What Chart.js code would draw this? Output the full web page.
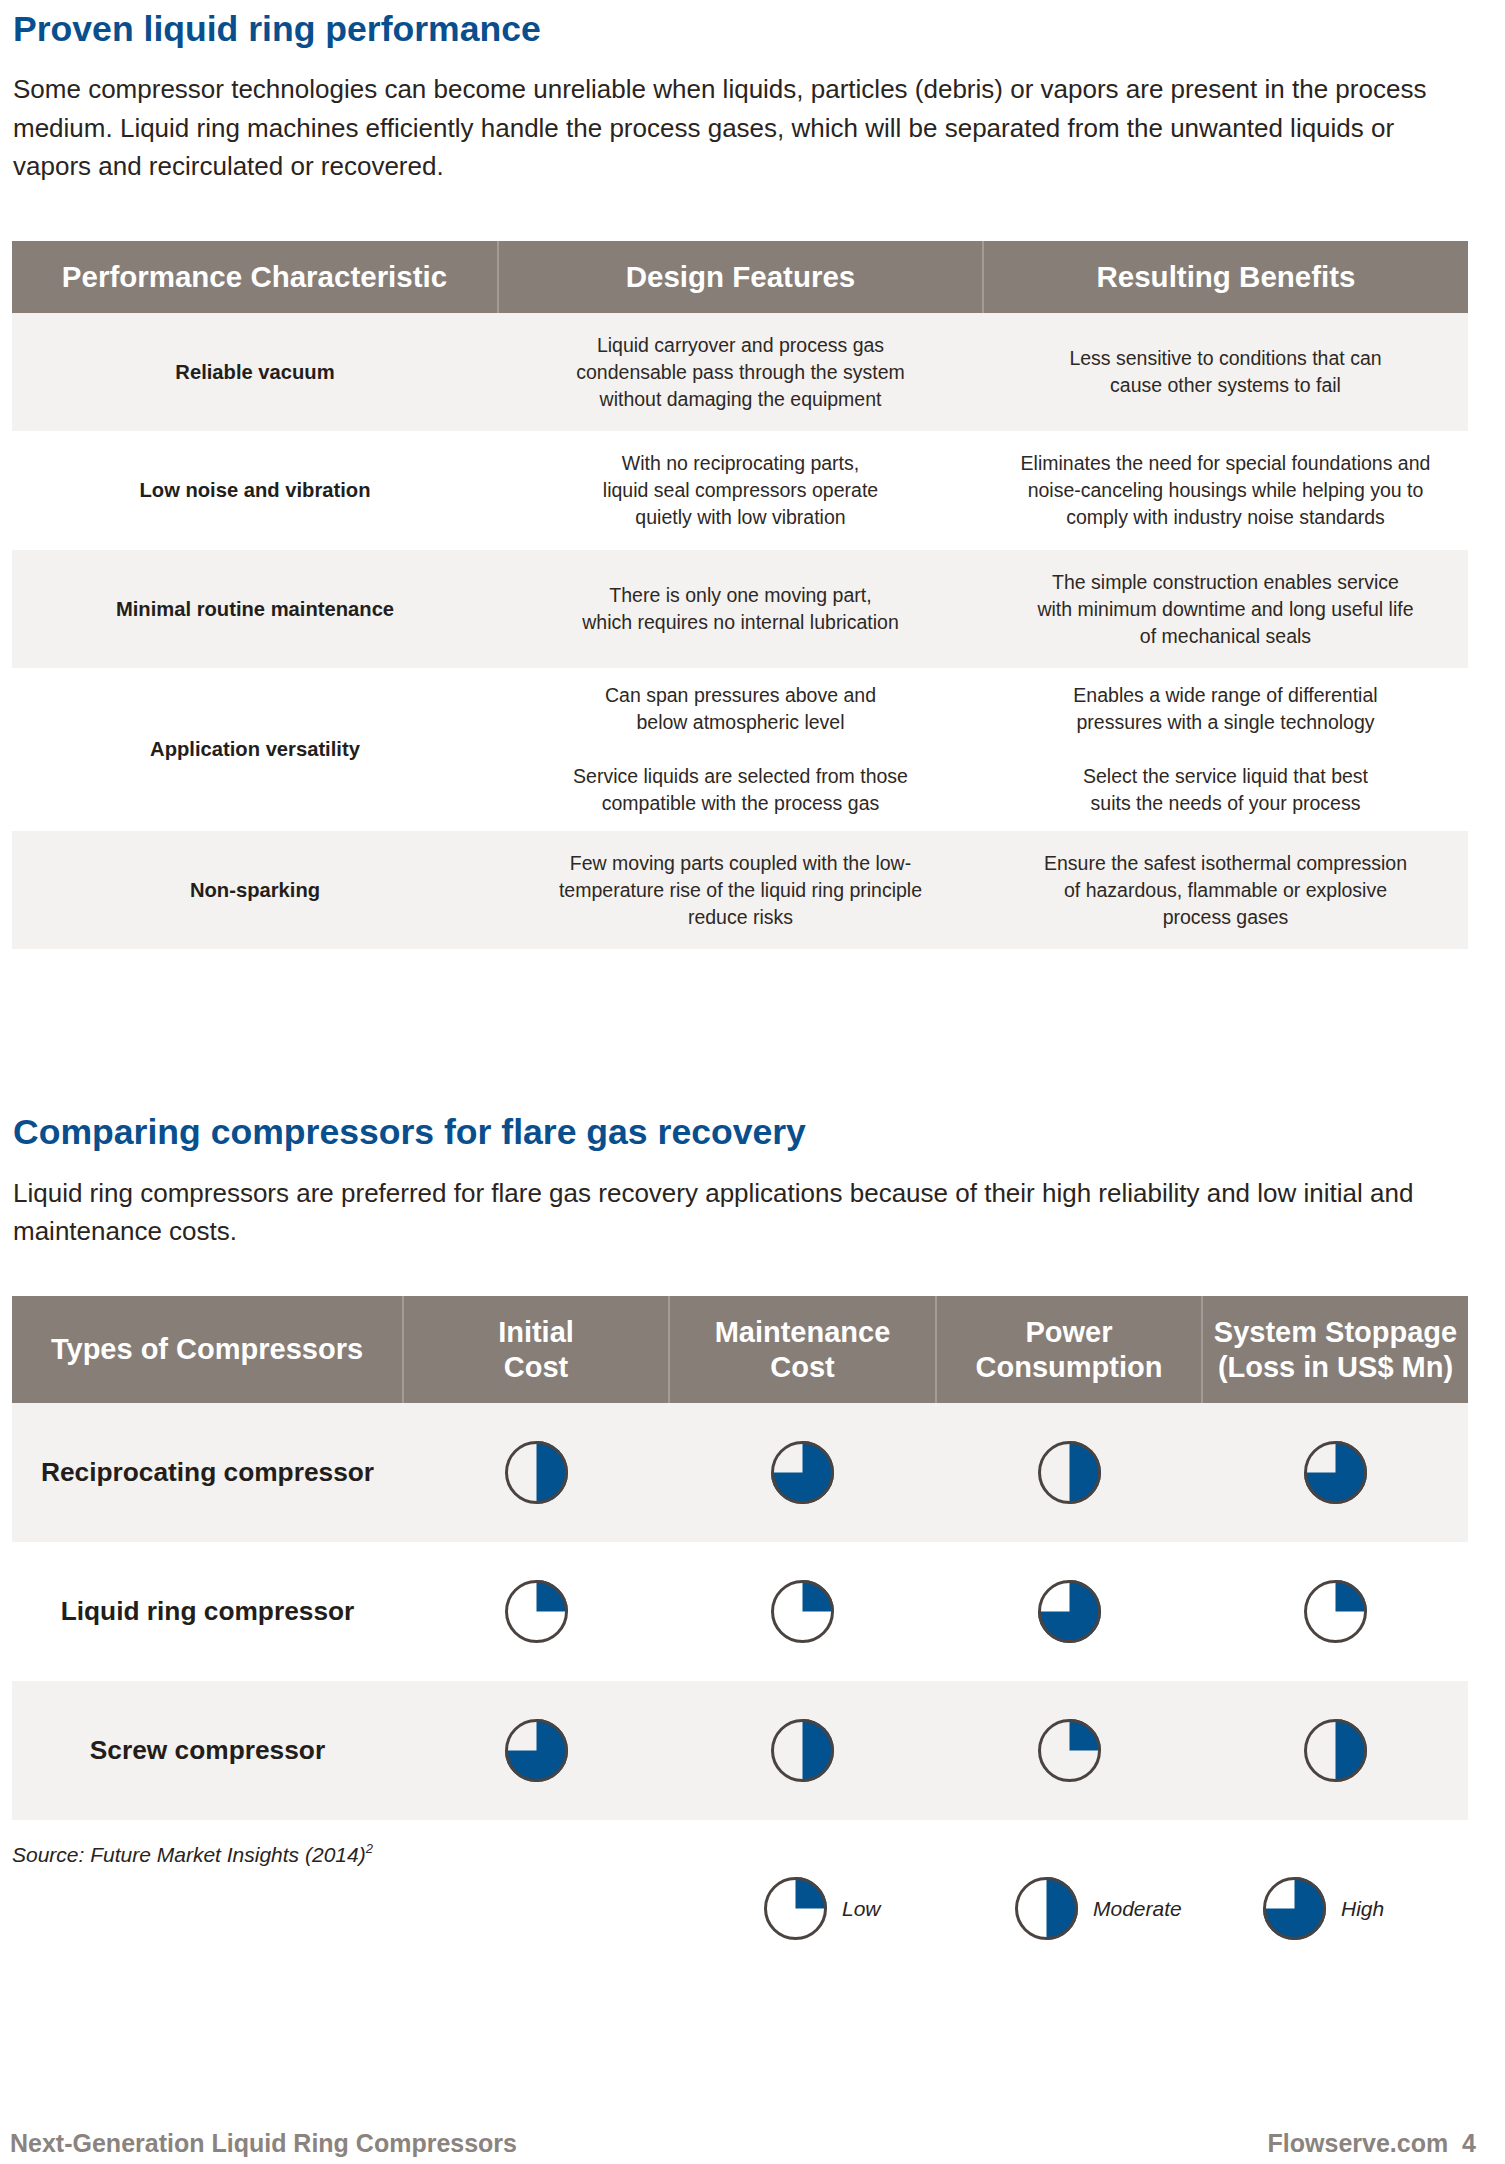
<!DOCTYPE html>
<html>
<head>
<meta charset="utf-8">
<script src="https://cdn.jsdelivr.net/npm/chart.js@4.4.1/dist/chart.umd.min.js"></script>
<style>
  html, body { margin: 0; padding: 0; background: #fff; }
  body { width: 1505px; height: 2164px; position: relative; overflow: hidden;
         font-family: 'Liberation Sans', Arial, Helvetica, sans-serif; color: #2a2421; }
  .abs { position: absolute; }
  .title { left: 13px; font-size: 35.6px; line-height: 36px; font-weight: bold; color: #0a4f8d; white-space: nowrap; }
  .para { left: 13px; font-size: 26px; line-height: 38.5px; white-space: nowrap; color: #2a2421; }
  table { border-collapse: collapse; table-layout: fixed; position: absolute; left: 12px; }
  td, th { padding: 0; text-align: center; vertical-align: middle; }
  th { background: #877e78; color: #fff; font-weight: bold; }
  th + th { border-left: 2px solid #a39b96; }
  tr.g td { background: #f3f2f0; }
  #t1 th { font-size: 29.5px; height: 72px; }
  #t1 td { font-size: 19.5px; line-height: 27px; color: #2e2825; }
  #t1 td.k { font-weight: bold; font-size: 20.2px; color: #231e1b; }
  #t2 th { font-size: 29px; line-height: 35px; height: 107px; }
  #t2 td { height: 139px; }
  #t2 td.k { font-weight: bold; font-size: 26.3px; color: #231e1b; }
  .ball { display: block; margin: 0 auto; }
  .src { left: 12px; font-size: 21px; line-height: 21px; font-style: italic; white-space: nowrap; }
  .src sup { font-size: 13px; vertical-align: 9px; line-height: 0; }
  .leg { display: flex; align-items: center; font-style: italic; font-size: 21px; }
  .foot { font-size: 25px; line-height: 25px; font-weight: bold; color: #8b837e; white-space: nowrap; }
</style>
</head>
<body>

<div class="abs title" style="top:11px">Proven liquid ring performance</div>
<div class="abs para" style="top:70px">
Some compressor technologies can become unreliable when liquids, particles (debris) or vapors are present in the process<br>
medium. Liquid ring machines efficiently handle the process gases, which will be separated from the unwanted liquids or<br>
vapors and recirculated or recovered.
</div>

<table id="t1" style="top:241px; width:1456px">
  <colgroup><col style="width:486px"><col style="width:485px"><col style="width:485px"></colgroup>
  <tr><th>Performance Characteristic</th><th>Design Features</th><th>Resulting Benefits</th></tr>
  <tr class="g" style="height:118px">
    <td class="k">Reliable vacuum</td>
    <td>Liquid carryover and process gas<br>condensable pass through the system<br>without damaging the equipment</td>
    <td>Less sensitive to conditions that can<br>cause other systems to fail</td>
  </tr>
  <tr style="height:119px">
    <td class="k">Low noise and vibration</td>
    <td>With no reciprocating parts,<br>liquid seal compressors operate<br>quietly with low vibration</td>
    <td>Eliminates the need for special foundations and<br>noise-canceling housings while helping you to<br>comply with industry noise standards</td>
  </tr>
  <tr class="g" style="height:118px">
    <td class="k">Minimal routine maintenance</td>
    <td>There is only one moving part,<br>which requires no internal lubrication</td>
    <td>The simple construction enables service<br>with minimum downtime and long useful life<br>of mechanical seals</td>
  </tr>
  <tr style="height:163px">
    <td class="k">Application versatility</td>
    <td>Can span pressures above and<br>below atmospheric level<br><br>Service liquids are selected from those<br>compatible with the process gas</td>
    <td>Enables a wide range of differential<br>pressures with a single technology<br><br>Select the service liquid that best<br>suits the needs of your process</td>
  </tr>
  <tr class="g" style="height:118px">
    <td class="k">Non-sparking</td>
    <td>Few moving parts coupled with the low-<br>temperature rise of the liquid ring principle<br>reduce risks</td>
    <td>Ensure the safest isothermal compression<br>of hazardous, flammable or explosive<br>process gases</td>
  </tr>
</table>

<div class="abs title" style="top:1114px">Comparing compressors for flare gas recovery</div>
<div class="abs para" style="top:1174px; line-height:38px">
Liquid ring compressors are preferred for flare gas recovery applications because of their high reliability and low initial and<br>
maintenance costs.
</div>

<table id="t2" style="top:1296px; width:1456px">
  <colgroup><col style="width:391px"><col style="width:266px"><col style="width:267px"><col style="width:266px"><col style="width:266px"></colgroup>
  <thead><tr id="t2head"></tr></thead>
  <tbody id="t2body"></tbody>
</table>

<div class="abs src" style="top:1844px">Source: Future Market Insights (2014)<sup>2</sup></div>

<div id="legend"></div>

<div class="abs foot" style="top:2131px; left:10px">Next-Generation Liquid Ring Compressors</div>
<div class="abs foot" style="top:2131px; right:29px">Flowserve.com&nbsp;&nbsp;4</div>

<script>
// Harvey balls: number of filled quarters (1 = Low, 2 = Moderate, 3 = High)
const compressors = ['Reciprocating compressor', 'Liquid ring compressor', 'Screw compressor'];
const criteria = [['Types of Compressors'], ['Initial', 'Cost'], ['Maintenance', 'Cost'], ['Power', 'Consumption'], ['System Stoppage', '(Loss in US$ Mn)']];
const initialCost = [2, 1, 3];
const maintenanceCost = [3, 1, 2];
const powerConsumption = [2, 3, 1];
const systemStoppage = [3, 1, 2];
const levelLabels = ['Low', 'Moderate', 'High'];
const levelValues = [1, 2, 3];
const quarters = 4;

const blue = '#01528f';
const rim = '#4b4340';

const ringOutline = {
    id: 'ringOutline',
    afterDatasetsDraw(chart, args, opts) {
        const arc = chart.getDatasetMeta(0).data[0];
        if (!arc) return;
        const ctx = chart.ctx;
        ctx.save();
        ctx.beginPath();
        ctx.arc(arc.x, arc.y, arc.outerRadius - opts.width / 2, 0, Math.PI * 2);
        ctx.lineWidth = opts.width;
        ctx.strokeStyle = opts.color;
        ctx.stroke();
        ctx.restore();
    }
};

function harveyBall(canvas, level) {
    return new Chart(canvas.getContext('2d'), {
        type: 'pie',
        data: {
            labels: ['filled', 'empty'],
            datasets: [{
                data: [level, quarters - level],
                backgroundColor: [blue, 'rgba(0,0,0,0)'],
                borderWidth: 0
            }]
        },
        options: {
            responsive: false,
            animation: false,
            events: [],
            layout: { padding: 2 },
            plugins: {
                legend: { display: false },
                tooltip: { enabled: false },
                ringOutline: { width: 3, color: rim }
            }
        },
        plugins: [ringOutline]
    });
}

function makeCanvas() {
    const c = document.createElement('canvas');
    c.width = 67;
    c.height = 67;
    c.className = 'ball';
    return c;
}

// header
const head = document.getElementById('t2head');
criteria.forEach(lines => {
    const th = document.createElement('th');
    th.innerHTML = lines.join('<br>');
    head.appendChild(th);
});

// body
const columns = [initialCost, maintenanceCost, powerConsumption, systemStoppage];
const tbody = document.getElementById('t2body');
compressors.forEach((name, i) => {
    const tr = document.createElement('tr');
    if (i % 2 === 0) tr.className = 'g';
    const td = document.createElement('td');
    td.className = 'k';
    td.textContent = name;
    tr.appendChild(td);
    columns.forEach(col => {
        const cell = document.createElement('td');
        const cv = makeCanvas();
        cell.appendChild(cv);
        tr.appendChild(cell);
        harveyBall(cv, col[i]);
    });
    tbody.appendChild(tr);
});

// legend
const legendX = [762, 1013, 1261];
const legend = document.getElementById('legend');
levelLabels.forEach((label, i) => {
    const item = document.createElement('div');
    item.className = 'abs leg';
    item.style.left = legendX[i] + 'px';
    item.style.top = '1875px';
    const cv = makeCanvas();
    cv.style.margin = '0';
    item.appendChild(cv);
    const span = document.createElement('span');
    span.textContent = label;
    span.style.marginLeft = '13px';
    item.appendChild(span);
    legend.appendChild(item);
    harveyBall(cv, levelValues[i]);
});
</script>
</body>
</html>
